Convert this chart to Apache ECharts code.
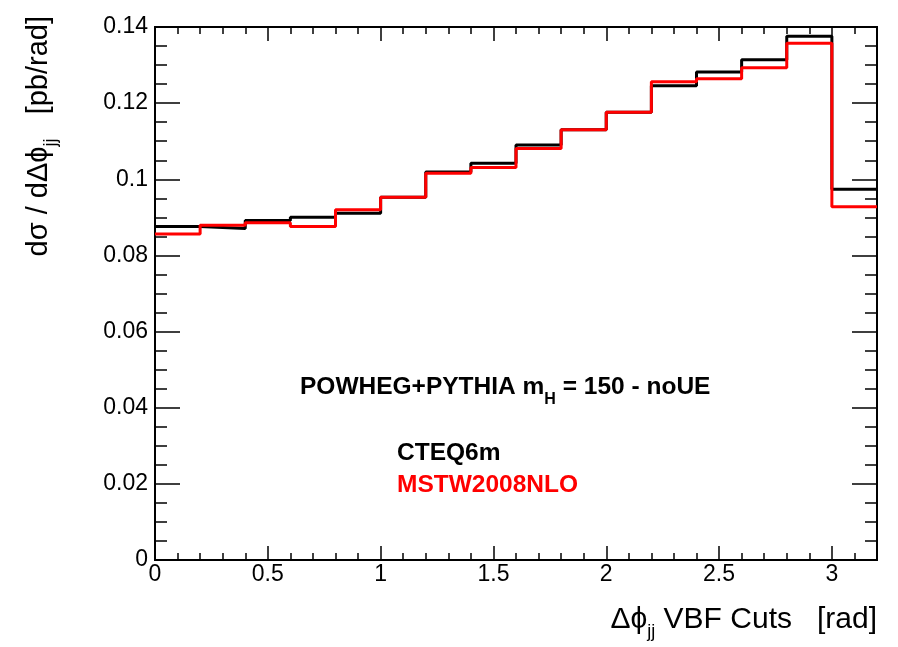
<!DOCTYPE html>
<html>
<head>
<meta charset="utf-8">
<script src="https://cdn.jsdelivr.net/npm/echarts@6/dist/echarts.min.js"></script>
<style>
html,body{margin:0;padding:0;background:#fff;}
#chart{width:898px;height:647px;}
</style>
</head>
<body>
<div id="chart"></div>
<script>
// Bin edges (rad)
var binEdges = [0, 0.2, 0.4, 0.6, 0.8, 1.0, 1.2, 1.4, 1.6, 1.8, 2.0, 2.2, 2.4, 2.6, 2.8, 3.0, 3.2];
// CTEQ6m histogram contents (pb/rad)
var cteq6m = [0.0876, 0.0871, 0.0892, 0.0900, 0.0911, 0.0953, 0.1019, 0.1042, 0.1090, 0.1130, 0.1176, 0.1246, 0.1282, 0.1314, 0.1376, 0.0974];
// MSTW2008NLO histogram contents (pb/rad)
var mstw2008nlo = [0.0856, 0.0879, 0.0886, 0.0876, 0.0920, 0.0953, 0.1016, 0.1031, 0.1081, 0.1130, 0.1176, 0.1256, 0.1264, 0.1293, 0.1357, 0.0928];
// Axis tick labels
var xTickLabels = ['0', '0.5', '1', '1.5', '2', '2.5', '3'];
var yTickLabels = ['0', '0.02', '0.04', '0.06', '0.08', '0.1', '0.12', '0.14'];

function histToSteps(edges, vals) {
  var out = [];
  for (var i = 0; i < vals.length; i++) out.push([edges[i], vals[i]]);
  out.push([edges[edges.length - 1], vals[vals.length - 1]]);
  return out;
}

var FONT = 'Liberation Sans, Arial, Helvetica, sans-serif';
var PHI = '\u03d5';
var chart = echarts.init(document.getElementById('chart'), null, {renderer: 'canvas'});

function xAx(pos, interval, len, labels) {
  return {
    type: 'value', position: pos, min: 0, max: 3.2, interval: interval,
    axisLine: {show: true, onZero: false, lineStyle: {color: '#000', width: 2}},
    axisTick: {show: true, inside: true, length: len, lineStyle: {color: '#000', width: 1.5}},
    axisLabel: labels ? {
      show: true, color: '#000', fontSize: 23, fontFamily: FONT, margin: 3, showMaxLabel: false,
      formatter: function (v) {
        var s = String(Math.round(v * 10) / 10);
        return xTickLabels.indexOf(s) >= 0 ? s : '';
      }
    } : {show: false},
    splitLine: {show: false}
  };
}
function yAx(pos, labels) {
  return {
    type: 'value', position: pos, min: 0, max: 0.14, interval: 0.02,
    axisLine: {show: true, onZero: false, lineStyle: {color: '#000', width: 2}},
    axisTick: {show: true, inside: true, length: 25, lineStyle: {color: '#000', width: 1.5}},
    minorTick: {show: true, splitNumber: 4, length: 12, lineStyle: {color: '#000', width: 1.5}},
    axisLabel: labels ? {
      show: true, color: '#000', fontSize: 23, fontFamily: FONT, margin: 7,
      formatter: function (v) {
        var idx = Math.round(v / 0.02);
        return yTickLabels[idx] !== undefined ? yTickLabels[idx] : '';
      }
    } : {show: false},
    splitLine: {show: false}
  };
}

var option = {
  animation: false,
  backgroundColor: '#fff',
  grid: {left: 155, right: 21, top: 27, bottom: 87, containLabel: false},
  xAxis: [
    xAx('bottom', 0.5, 14, true),
    xAx('bottom', 0.1, 7, false),
    xAx('top', 0.5, 14, false),
    xAx('top', 0.1, 7, false)
  ],
  yAxis: [
    yAx('left', true),
    yAx('right', false)
  ],
  series: [
    {
      name: 'CTEQ6m', type: 'line', step: 'end', symbol: 'none',
      xAxisIndex: 0, yAxisIndex: 0,
      lineStyle: {color: '#000', width: 3}, itemStyle: {color: '#000'},
      data: histToSteps(binEdges, cteq6m), z: 2
    },
    {
      name: 'MSTW2008NLO', type: 'line', step: 'end', symbol: 'none',
      xAxisIndex: 0, yAxisIndex: 0,
      lineStyle: {color: '#ff0000', width: 3}, itemStyle: {color: '#ff0000'},
      data: histToSteps(binEdges, mstw2008nlo), z: 3
    }
  ],
  graphic: [
    {
      type: 'text', x: 300, y: 387, z: 10,
      style: {
        text: '{m|POWHEG+PYTHIA m}{s|H}{m| = 150 - noUE}',
        align: 'left', verticalAlign: 'middle',
        rich: {
          m: {fontSize: 24.5, fontWeight: 'bold', fontFamily: FONT, fill: '#000', lineHeight: 24},
          s: {fontSize: 16, fontWeight: 'bold', fontFamily: FONT, fill: '#000', lineHeight: 16, padding: [26, 0, 0, 0]}
        }
      }
    },
    {
      type: 'text', x: 397, y: 453, z: 10,
      style: {text: 'CTEQ6m', fill: '#000', fontSize: 24.5, fontWeight: 'bold', fontFamily: FONT, align: 'left', verticalAlign: 'middle'}
    },
    {
      type: 'text', x: 397, y: 485, z: 10,
      style: {text: 'MSTW2008NLO', fill: '#ff0000', fontSize: 24.5, fontWeight: 'bold', fontFamily: FONT, align: 'left', verticalAlign: 'middle'}
    },
    {
      type: 'text', x: 877, y: 620, z: 10,
      style: {
        text: '{m|\u0394' + PHI + '}{s|jj}{m| VBF Cuts   [rad]}',
        align: 'right', verticalAlign: 'middle',
        rich: {
          m: {fontSize: 30, fontFamily: FONT, fill: '#000', lineHeight: 28},
          s: {fontSize: 18, fontFamily: FONT, fill: '#000', lineHeight: 18, padding: [24, 0, 0, 0]}
        }
      }
    },
    {
      type: 'text', x: 39, y: 16, z: 10, rotation: Math.PI / 2,
      style: {
        text: '{m|d\u03c3 / d\u0394' + PHI + '}{s|jj}{m|   [pb/rad]}',
        align: 'right', verticalAlign: 'middle',
        rich: {
          m: {fontSize: 29, fontFamily: FONT, fill: '#000', lineHeight: 28},
          s: {fontSize: 18, fontFamily: FONT, fill: '#000', lineHeight: 18, padding: [24, 0, 0, 0]}
        }
      }
    }
  ]
};
chart.setOption(option);
</script>
</body>
</html>
